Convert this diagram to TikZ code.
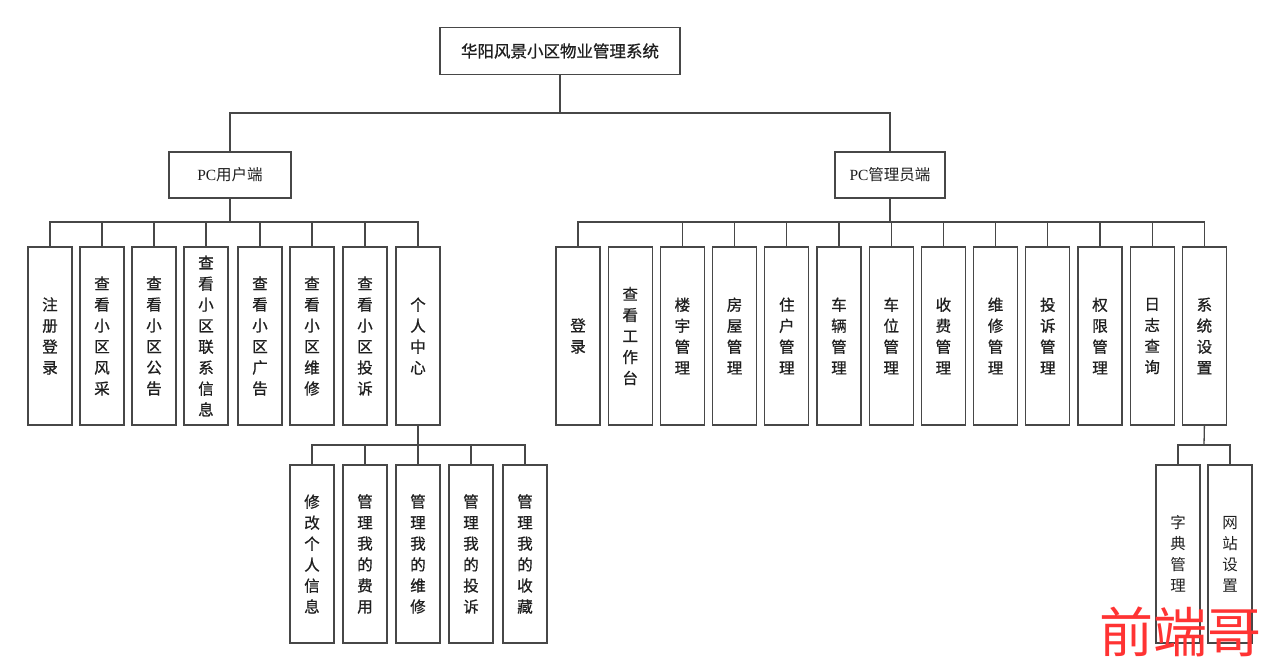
\documentclass[tikz,border=0pt]{standalone}
\usepackage{fontspec}
\setmainfont{Liberation Serif}
\newfontfamily\cjk{Noto Sans CJK SC}
\newfontfamily\cjkb[FakeBold=0.8]{Noto Sans CJK SC}
\begin{document}
\begin{tikzpicture}[x=1pt,y=-1pt,
  linec/.style={draw=black!72, line width=1.3pt},
  box/.style={linec, inner sep=0pt, text=black!88},
  vbox/.style={box, minimum width=44pt, minimum height=178pt, align=center,
    font=\cjkb\fontsize{15.5}{21}\selectfont},
  lbox/.style={vbox, font=\cjk\fontsize{15.5}{21}\selectfont},
  wire/.style={linec}
]
\useasboundingbox (0,0) rectangle (1280,671);
\fill[white] (0,0) rectangle (1280,671);

% top levels
\node[box, minimum width=240pt, minimum height=47pt, font=\cjkb\fontsize{16.5}{20}\selectfont] (root) at (560,51) {华阳风景小区物业管理系统};
\node[box, minimum width=122pt, minimum height=46pt, font=\fontsize{15.5}{18}\selectfont] (user) at (230,175) {PC{\cjk 用户端}};
\node[box, minimum width=110pt, minimum height=46pt, font=\fontsize{15.5}{18}\selectfont] (admin) at (890,175) {PC{\cjk 管理员端}};

% user children
\node[vbox] (u1) at (50,336) {注\\册\\登\\录};
\node[vbox] (u2) at (102,336) {查\\看\\小\\区\\风\\采};
\node[vbox] (u3) at (154,336) {查\\看\\小\\区\\公\\告};
\node[vbox] (u4) at (206,336) {查\\看\\小\\区\\联\\系\\信\\息};
\node[vbox] (u5) at (260,336) {查\\看\\小\\区\\广\\告};
\node[vbox] (u6) at (312,336) {查\\看\\小\\区\\维\\修};
\node[vbox] (u7) at (365,336) {查\\看\\小\\区\\投\\诉};
\node[vbox] (u8) at (418,336) {个\\人\\中\\心};

% personal center children
\node[vbox] (p1) at (312,554) {修\\改\\个\\人\\信\\息};
\node[vbox] (p2) at (365,554) {管\\理\\我\\的\\费\\用};
\node[vbox] (p3) at (418,554) {管\\理\\我\\的\\维\\修};
\node[vbox] (p4) at (471,554) {管\\理\\我\\的\\投\\诉};
\node[vbox] (p5) at (525,554) {管\\理\\我\\的\\收\\藏};

% admin children
\node[vbox] (a1) at (578.0,336) {登\\录};
\node[vbox] (a2) at (630.2,336) {查\\看\\工\\作\\台};
\node[vbox] (a3) at (682.4,336) {楼\\宇\\管\\理};
\node[vbox] (a4) at (734.6,336) {房\\屋\\管\\理};
\node[vbox] (a5) at (786.8,336) {住\\户\\管\\理};
\node[vbox] (a6) at (839.0,336) {车\\辆\\管\\理};
\node[vbox] (a7) at (891.2,336) {车\\位\\管\\理};
\node[vbox] (a8) at (943.4,336) {收\\费\\管\\理};
\node[vbox] (a9) at (995.6,336) {维\\修\\管\\理};
\node[vbox] (a10) at (1047.8,336) {投\\诉\\管\\理};
\node[vbox] (a11) at (1100.0,336) {权\\限\\管\\理};
\node[vbox] (a12) at (1152.2,336) {日\\志\\查\\询};
\node[vbox] (a13) at (1204.4,336) {系\\统\\设\\置};

% system settings children
\node[lbox] (s1) at (1178,554) {字\\典\\管\\理};
\node[lbox] (s2) at (1230,554) {网\\站\\设\\置};

% buses
\coordinate (busR) at (560,113);
\coordinate (busU) at (230,222);
\coordinate (busA) at (890,222);
\coordinate (busP) at (418,445);
\coordinate (busS) at (1204,445);

% root connectors
\draw[wire] (root.south) -- (busR);
\draw[wire] (user.north) |- (busR) -| (admin.north);

% user connectors
\draw[wire] (user.south) -- (busU);
\draw[wire] (u1.north) |- (busU) -| (u8.north);
\foreach \n in {u2,u3,u4,u5,u6,u7} \draw[wire] (\n.north) -- (\n.north |- busU);

% personal center connectors
\draw[wire] (u8.south) -- (busP);
\draw[wire] (p1.north) |- (busP) -| (p5.north);
\foreach \n in {p2,p3,p4} \draw[wire] (\n.north) -- (\n.north |- busP);

% admin connectors
\draw[wire] (admin.south) -- (busA);
\draw[wire] (a1.north) |- (busA) -| (a13.north);
\foreach \n in {a3,a4,a5,a6,a7,a8,a9,a10,a11,a12} \draw[wire] (\n.north) -- (\n.north |- busA);

% system settings connectors
\draw[wire] (a13.south) -- (busS);
\draw[wire] (s1.north) |- (busS) -| (s2.north);

% watermark
\node[text=red!80!white, font=\cjk\fontsize{54}{60}\selectfont, inner sep=0pt] (wm) at (1180,632) {前端哥};
\end{tikzpicture}
\end{document}
